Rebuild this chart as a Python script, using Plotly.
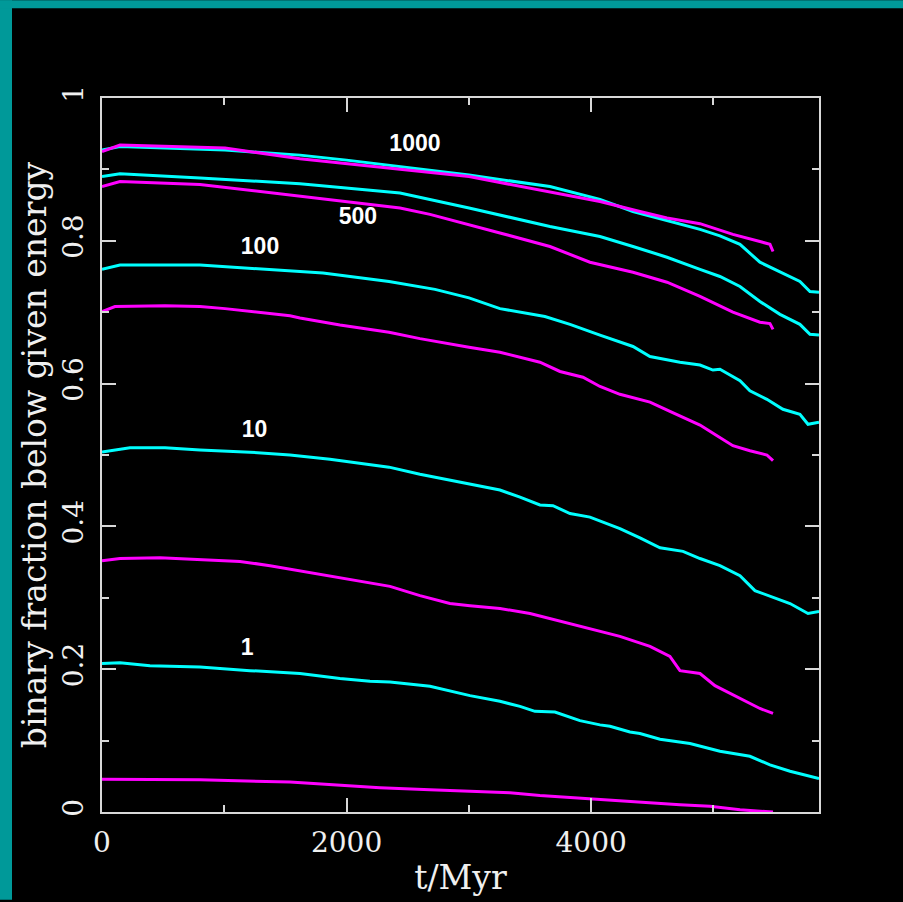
import plotly.graph_objects as go

# Binary fraction below a given binding energy vs time (Myr).
# Each energy threshold has a cyan and a magenta run.

t_cyan_1000 = [0, 147, 1006, 1619, 2000, 3001, 3663, 4072, 4342, 4890, 5053, 5217, 5380, 5544, 5707, 5789, 5863]
f_cyan_1000 = [0.927, 0.932, 0.927, 0.920, 0.913, 0.892, 0.876, 0.858, 0.841, 0.816, 0.807, 0.795, 0.770, 0.756, 0.743, 0.729, 0.728]

t_mag_1000 = [0, 147, 1006, 1619, 3001, 4072, 4399, 4620, 4890, 5159, 5380, 5462, 5487]
f_mag_1000 = [0.925, 0.934, 0.930, 0.915, 0.890, 0.855, 0.841, 0.832, 0.824, 0.809, 0.799, 0.795, 0.785]

t_cyan_500 = [0, 147, 801, 1619, 2437, 3001, 3663, 4072, 4342, 4620, 4890, 5053, 5217, 5380, 5544, 5707, 5789, 5863]
f_cyan_500 = [0.890, 0.894, 0.888, 0.880, 0.867, 0.846, 0.820, 0.806, 0.792, 0.777, 0.760, 0.750, 0.736, 0.715, 0.697, 0.683, 0.669, 0.668]

t_mag_500 = [0, 147, 801, 1619, 2437, 2682, 3001, 3254, 3663, 3990, 4342, 4620, 4890, 5159, 5380, 5462, 5487]
f_mag_500 = [0.876, 0.883, 0.879, 0.862, 0.846, 0.837, 0.823, 0.811, 0.792, 0.770, 0.756, 0.742, 0.722, 0.700, 0.686, 0.684, 0.676]

t_cyan_100 = [0, 147, 801, 1619, 1807, 2347, 2723, 3001, 3254, 3622, 3827, 4072, 4342, 4481, 4726, 4890, 4996, 5053, 5217, 5298, 5437, 5568, 5707, 5773, 5863]
f_cyan_100 = [0.760, 0.766, 0.766, 0.757, 0.755, 0.743, 0.732, 0.720, 0.705, 0.694, 0.683, 0.668, 0.652, 0.638, 0.630, 0.626, 0.619, 0.620, 0.604, 0.590, 0.578, 0.564, 0.557, 0.543, 0.546]

t_mag_100 = [0, 106, 515, 801, 1006, 1292, 1537, 1619, 1946, 2347, 2600, 3001, 3254, 3581, 3745, 3933, 4072, 4235, 4481, 4644, 4890, 5029, 5159, 5298, 5437, 5487]
f_mag_100 = [0.701, 0.708, 0.709, 0.708, 0.705, 0.700, 0.695, 0.692, 0.682, 0.672, 0.663, 0.651, 0.644, 0.630, 0.617, 0.609, 0.596, 0.585, 0.574, 0.561, 0.542, 0.527, 0.513, 0.506, 0.500, 0.492]

t_cyan_10 = [0, 229, 515, 801, 1210, 1537, 1864, 2347, 2600, 3001, 3254, 3418, 3581, 3688, 3827, 3990, 4235, 4399, 4563, 4751, 4890, 5053, 5217, 5339, 5462, 5626, 5773, 5863]
f_cyan_10 = [0.504, 0.510, 0.510, 0.507, 0.504, 0.500, 0.494, 0.483, 0.473, 0.460, 0.451, 0.441, 0.430, 0.429, 0.418, 0.413, 0.397, 0.384, 0.370, 0.365, 0.355, 0.345, 0.331, 0.310, 0.302, 0.292, 0.278, 0.281]

t_mag_10 = [0, 147, 474, 801, 1128, 1374, 1619, 1864, 2110, 2355, 2600, 2845, 3009, 3254, 3500, 3745, 3990, 4235, 4481, 4644, 4726, 4890, 5012, 5135, 5258, 5380, 5487]
f_mag_10 = [0.352, 0.355, 0.356, 0.353, 0.351, 0.345, 0.338, 0.331, 0.323, 0.316, 0.303, 0.292, 0.289, 0.285, 0.278, 0.267, 0.257, 0.246, 0.232, 0.218, 0.198, 0.194, 0.177, 0.166, 0.155, 0.145, 0.138]

t_cyan_1 = [0, 147, 392, 801, 1210, 1619, 1946, 2191, 2355, 2682, 3009, 3254, 3418, 3540, 3704, 3908, 4072, 4154, 4317, 4399, 4563, 4808, 5053, 5298, 5462, 5626, 5863]
f_cyan_1 = [0.208, 0.209, 0.205, 0.203, 0.198, 0.194, 0.187, 0.183, 0.182, 0.176, 0.163, 0.155, 0.148, 0.141, 0.140, 0.128, 0.122, 0.120, 0.112, 0.110, 0.102, 0.096, 0.085, 0.078, 0.066, 0.057, 0.047]

t_mag_1 = [0, 801, 1537, 1864, 2273, 2682, 3091, 3336, 3581, 3827, 4072, 4399, 4726, 4971, 5217, 5487]
f_mag_1 = [0.046, 0.045, 0.042, 0.038, 0.034, 0.031, 0.028, 0.027, 0.023, 0.020, 0.017, 0.014, 0.010, 0.008, 0.003, 0.000]

# Energy-threshold labels and where they sit (t, fraction)
label_text = ["1000", "500", "100", "10", "1"]
label_t = [2559, 2093, 1292, 1247, 1186]
label_f = [0.934, 0.832, 0.790, 0.533, 0.228]

x_ticks = [0, 2000, 4000]
y_ticks = [0, 0.2, 0.4, 0.6, 0.8, 1]
y_tick_text = ["0", "0.2", "0.4", "0.6", "0.8", "1"]

CYAN = "#00ffff"
MAGENTA = "#ff00ff"
AXIS = "#d8d8d8"
TEXT = "#f0f0f0"
TEAL = "#009999"
SERIF = "DejaVu Serif"

series = [
    (t_cyan_1000, f_cyan_1000, CYAN), (t_mag_1000, f_mag_1000, MAGENTA),
    (t_cyan_500, f_cyan_500, CYAN), (t_mag_500, f_mag_500, MAGENTA),
    (t_cyan_100, f_cyan_100, CYAN), (t_mag_100, f_mag_100, MAGENTA),
    (t_cyan_10, f_cyan_10, CYAN), (t_mag_10, f_mag_10, MAGENTA),
    (t_cyan_1, f_cyan_1, CYAN), (t_mag_1, f_mag_1, MAGENTA),
]

fig = go.Figure()
for t, f, col in series:
    fig.add_trace(go.Scatter(x=t, y=f, mode="lines",
                             line=dict(color=col, width=3),
                             showlegend=False, hoverinfo="skip"))

fig.add_trace(go.Scatter(x=label_t, y=label_f, mode="text", text=label_text,
                         textfont=dict(family="Liberation Sans", size=23, color="white", weight="bold"),
                         showlegend=False, hoverinfo="skip"))

axis_common = dict(
    showgrid=False, zeroline=False,
    showline=True, linecolor=AXIS, linewidth=1.5, mirror="ticks",
    ticks="inside", ticklen=14, tickwidth=1.5, tickcolor=AXIS,
    tickfont=dict(family=SERIF, size=28, color=TEXT),
)

fig.update_layout(
    width=903, height=902,
    margin=dict(l=102, r=84, t=98, b=88),
    paper_bgcolor="black", plot_bgcolor="black",
    xaxis=dict(
        range=[0, 5863], tickmode="array", tickvals=x_ticks,
        ticktext=[str(v) for v in x_ticks], ticklabelstandoff=5,
        minor=dict(dtick=1000, tick0=0, ticks="inside", ticklen=7, tickwidth=1.5, tickcolor=AXIS),
        title=dict(text="t/Myr", font=dict(family=SERIF, size=33, color=TEXT), standoff=8),
        **axis_common,
    ),
    yaxis=dict(
        range=[0, 1], tickmode="array", tickvals=y_ticks, ticktext=y_tick_text,
        tickangle=-90, ticklabelstandoff=6,
        minor=dict(dtick=0.1, tick0=0, ticks="inside", ticklen=7, tickwidth=1.5, tickcolor=AXIS),
        title=dict(text="binary fraction below given energy", font=dict(family=SERIF, size=33, color=TEXT), standoff=0),
        **axis_common,
    ),
    shapes=[
        # teal frame strips along the left and top edges of the page
        dict(type="rect", xref="paper", yref="paper", x0=-102 / 717, x1=-90 / 717,
             y0=-88 / 716, y1=(716 + 98) / 716, fillcolor=TEAL, line=dict(width=0), layer="above"),
        dict(type="rect", xref="paper", yref="paper", x0=-102 / 717, x1=(717 + 84) / 717,
             y0=(716 + 90) / 716, y1=(716 + 98) / 716, fillcolor=TEAL, line=dict(width=0), layer="above"),
    ],
)

fig.write_html("out.html")
